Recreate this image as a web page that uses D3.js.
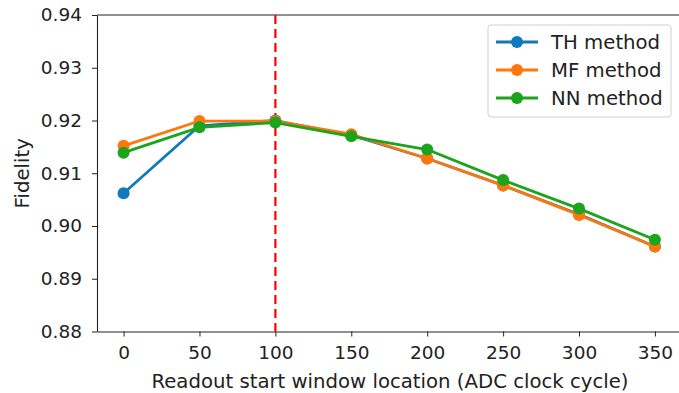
<!DOCTYPE html>
<html>
<head>
<meta charset="utf-8">
<script src="https://cdn.jsdelivr.net/npm/d3@7"></script>
<style>
  html, body { margin: 0; padding: 0; background: #fff; }
  svg { display: block; font-family: "DejaVu Sans", sans-serif; }
</style>
</head>
<body>
<svg id="chart" width="679" height="393"></svg>
<script>
// Readout start window location (ADC clock cycles)
const windowStarts = [0, 50, 100, 150, 200, 250, 300, 350];
// Readout fidelity per method
const thFidelity = [0.9062, 0.9190, 0.9200, 0.9172, 0.9128, 0.9077, 0.9022, 0.8961];
const mfFidelity = [0.9152, 0.9199, 0.9199, 0.9174, 0.9128, 0.9077, 0.9021, 0.8961];
const nnFidelity = [0.9139, 0.9187, 0.9196, 0.9170, 0.9145, 0.9087, 0.9033, 0.8974];
const seriesNames = ["TH method", "MF method", "NN method"];
const seriesColors = ["#1078bc", "#ff760a", "#1ca41c"];
const xTicks = [0, 50, 100, 150, 200, 250, 300, 350];
const yTicks = [0.88, 0.89, 0.90, 0.91, 0.92, 0.93, 0.94];
const chosenStart = 100;

const series = [thFidelity, mfFidelity, nnFidelity].map((vals, i) => ({
  name: seriesNames[i],
  color: seriesColors[i],
  points: windowStarts.map((x, j) => ({ x, y: vals[j] }))
}));

const svg = d3.select("#chart");
const plotLeft = 97, plotRight = 681.5, plotTop = 15, plotBottom = 331.5;
const tickFont = 18.5, labelFont = 19.7;
const ink = "#222";

const x = d3.scaleLinear().domain([-17.5, 367.5]).range([plotLeft, plotRight]);
const y = d3.scaleLinear().domain([0.88, 0.94]).range([plotBottom, plotTop]);

// Axes
const xAxis = svg.append("g")
  .attr("transform", `translate(0,${plotBottom})`)
  .call(d3.axisBottom(x).tickValues(xTicks).tickSize(5).tickPadding(9).tickSizeOuter(0));
const yAxis = svg.append("g")
  .attr("transform", `translate(${plotLeft},0)`)
  .call(d3.axisLeft(y).tickValues(yTicks).tickFormat(d3.format(".2f")).tickSize(5).tickPadding(10).tickSizeOuter(0));

[xAxis, yAxis].forEach(g => {
  g.attr("font-size", tickFont).attr("font-family", "DejaVu Sans, sans-serif");
  g.selectAll("text").attr("fill", ink);
  g.selectAll("line").attr("stroke", ink).attr("stroke-width", 1);
  g.select(".domain").attr("stroke", ink).attr("stroke-width", 1.1);
});

// Top frame
svg.append("line").attr("x1", plotLeft).attr("x2", plotRight).attr("y1", plotTop).attr("y2", plotTop)
  .attr("stroke", ink).attr("stroke-width", 1.1);

// Axis titles
svg.append("text")
  .attr("x", 390).attr("y", 388)
  .attr("text-anchor", "middle").attr("font-size", labelFont).attr("fill", ink)
  .text("Readout start window location (ADC clock cycle)");
svg.append("text")
  .attr("transform", `translate(29,${(plotTop + plotBottom) / 2}) rotate(-90)`)
  .attr("text-anchor", "middle").attr("font-size", labelFont).attr("fill", ink)
  .text("Fidelity");

// Chosen window marker
svg.append("line")
  .attr("x1", x(chosenStart)).attr("x2", x(chosenStart))
  .attr("y1", plotTop).attr("y2", plotBottom)
  .attr("stroke", "#ff0000").attr("stroke-width", 2.2)
  .attr("stroke-dasharray", "9,5");

// Series lines with markers
const line = d3.line().x(d => x(d.x)).y(d => y(d.y));
series.forEach(s => {
  const g = svg.append("g");
  g.append("path").datum(s.points)
    .attr("d", line).attr("fill", "none")
    .attr("stroke", s.color).attr("stroke-width", 2.8)
    .attr("stroke-linejoin", "round");
  g.selectAll("circle").data(s.points).join("circle")
    .attr("cx", d => x(d.x)).attr("cy", d => y(d.y)).attr("r", 6)
    .attr("fill", s.color);
});

// Legend
const legend = svg.append("g").attr("transform", "translate(488,25)");
legend.append("rect").attr("width", 183).attr("height", 92).attr("rx", 3)
  .attr("fill", "#fff").attr("fill-opacity", 0.8)
  .attr("stroke", "#d0d0d0").attr("stroke-width", 1);
series.forEach((s, i) => {
  const cy = 17 + i * 28;
  legend.append("line").attr("x1", 8).attr("x2", 50).attr("y1", cy).attr("y2", cy)
    .attr("stroke", s.color).attr("stroke-width", 2.8);
  legend.append("circle").attr("cx", 29).attr("cy", cy).attr("r", 6).attr("fill", s.color);
  legend.append("text").attr("x", 63).attr("y", cy + 7)
    .attr("font-size", labelFont).attr("fill", ink).text(s.name);
});
</script>
</body>
</html>
